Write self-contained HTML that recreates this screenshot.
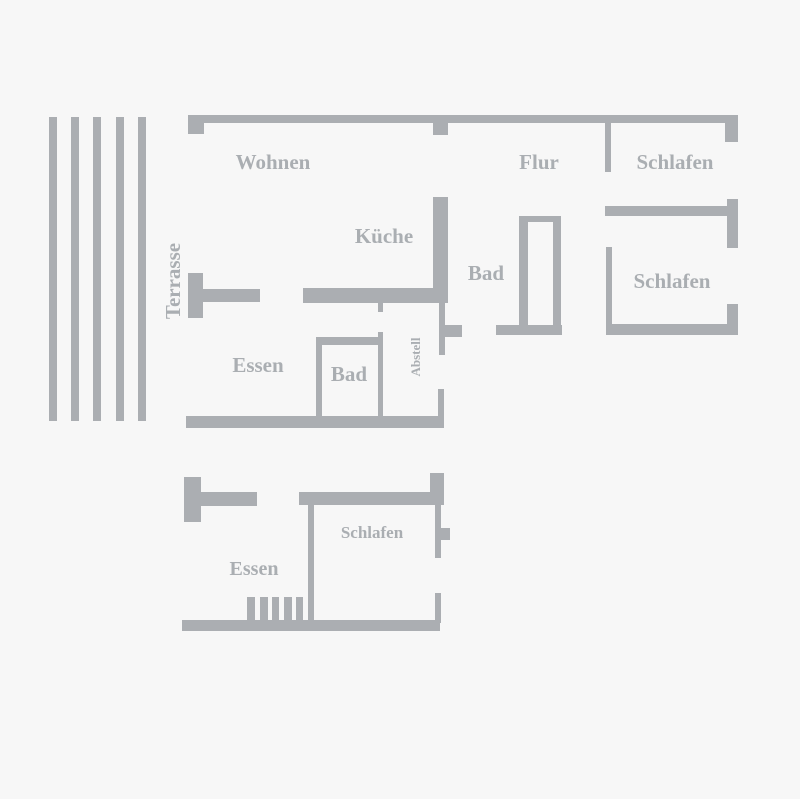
<!DOCTYPE html>
<html><head><meta charset="utf-8"><style>
html,body{margin:0;padding:0;background:#f7f7f7;}
svg{display:block}
text{font-family:"Liberation Serif",serif;font-weight:bold;fill:#aaaeb2;}
</style></head><body>
<svg width="800" height="799" viewBox="0 0 800 799" xmlns="http://www.w3.org/2000/svg">
<rect width="800" height="799" fill="#f7f7f7"/>
<g fill="#abaeb2">
<rect x="49" y="117" width="8" height="304"/>
<rect x="71" y="117" width="8" height="304"/>
<rect x="93" y="117" width="8" height="304"/>
<rect x="116" y="117" width="8" height="304"/>
<rect x="138" y="117" width="8" height="304"/>
<rect x="188" y="115" width="550" height="8"/>
<rect x="188" y="115" width="16" height="19"/>
<rect x="433" y="115" width="15" height="20"/>
<rect x="725" y="115" width="13" height="27"/>
<rect x="605" y="120" width="6" height="52"/>
<rect x="433" y="197" width="15" height="106"/>
<rect x="439" y="300" width="6" height="55"/>
<rect x="445" y="325" width="17" height="12"/>
<rect x="303" y="288" width="137" height="15"/>
<rect x="378" y="300" width="5" height="12"/>
<rect x="188" y="273" width="15" height="45"/>
<rect x="203" y="289" width="57" height="13"/>
<rect x="316" y="337" width="6" height="81"/>
<rect x="316" y="337" width="66" height="8"/>
<rect x="378" y="332" width="5" height="86"/>
<rect x="186" y="416" width="258" height="12"/>
<rect x="438" y="389" width="6" height="30"/>
<rect x="605" y="206" width="122" height="10"/>
<rect x="727" y="199" width="11" height="49"/>
<rect x="606" y="247" width="6" height="88"/>
<rect x="606" y="324" width="131" height="11"/>
<rect x="727" y="304" width="11" height="31"/>
<rect x="519" y="216" width="9" height="110"/>
<rect x="519" y="216" width="42" height="6"/>
<rect x="553" y="216" width="8" height="110"/>
<rect x="496" y="325" width="66" height="10"/>
<rect x="184" y="477" width="17" height="45"/>
<rect x="201" y="492" width="56" height="14"/>
<rect x="299" y="492" width="133" height="13"/>
<rect x="430" y="473" width="14" height="32"/>
<rect x="435" y="505" width="6" height="53"/>
<rect x="441" y="528" width="9" height="12"/>
<rect x="308" y="505" width="6" height="116"/>
<rect x="247" y="597" width="8" height="24"/>
<rect x="260" y="597" width="8" height="24"/>
<rect x="272" y="597" width="7" height="24"/>
<rect x="284" y="597" width="8" height="24"/>
<rect x="296" y="597" width="7" height="24"/>
<rect x="182" y="620" width="258" height="11"/>
<rect x="435" y="593" width="6" height="30"/>
</g>
<text x="273" y="169" font-size="21" text-anchor="middle">Wohnen</text>
<text x="539" y="169" font-size="21" text-anchor="middle">Flur</text>
<text x="675" y="169" font-size="21" text-anchor="middle">Schlafen</text>
<text x="384" y="243" font-size="21" text-anchor="middle">Küche</text>
<text x="486" y="280" font-size="21" text-anchor="middle">Bad</text>
<text x="672" y="288" font-size="21" text-anchor="middle">Schlafen</text>
<text x="258" y="372" font-size="21" text-anchor="middle">Essen</text>
<text x="349" y="381" font-size="21" text-anchor="middle">Bad</text>
<text transform="translate(420,357) rotate(-90)" font-size="13" text-anchor="middle">Abstell</text>
<text transform="translate(180,281) rotate(-90)" font-size="21" text-anchor="middle">Terrasse</text>
<text x="372" y="538" font-size="17" text-anchor="middle">Schlafen</text>
<text x="254" y="575" font-size="20" text-anchor="middle">Essen</text>
</svg>
</body></html>
